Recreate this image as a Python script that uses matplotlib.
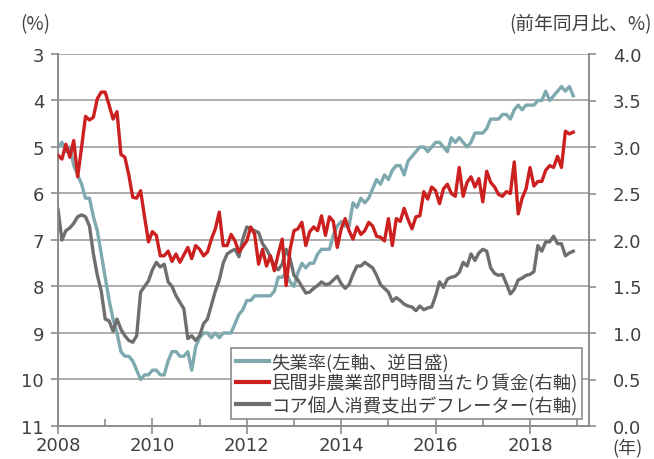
import numpy as np
import matplotlib.pyplot as plt
from matplotlib.ticker import MultipleLocator, FormatStrFormatter

JP = ['Noto Sans CJK JP', 'DejaVu Sans']
plt.rcParams['font.family'] = ['DejaVu Sans', 'Noto Sans CJK JP']

# monthly data, Jan 2008 - Dec 2018
unemp = [
    5.0, 4.9, 5.1, 5.0, 5.4, 5.6, 5.8, 6.1, 6.1, 6.5, 6.8, 7.3,
    7.8, 8.3, 8.7, 9.0, 9.4, 9.5, 9.5, 9.6, 9.8, 10.0, 9.9, 9.9,
    9.8, 9.8, 9.9, 9.9, 9.6, 9.4, 9.4, 9.5, 9.5, 9.4, 9.8, 9.3,
    9.1, 9.0, 9.0, 9.1, 9.0, 9.1, 9.0, 9.0, 9.0, 8.8, 8.6, 8.5,
    8.3, 8.3, 8.2, 8.2, 8.2, 8.2, 8.2, 8.1, 7.8, 7.8, 7.7, 7.9,
    8.0, 7.7, 7.5, 7.6, 7.5, 7.5, 7.3, 7.2, 7.2, 7.2, 6.9, 6.7,
    6.6, 6.7, 6.7, 6.2, 6.3, 6.1, 6.2, 6.1, 5.9, 5.7, 5.8, 5.6,
    5.7, 5.5, 5.4, 5.4, 5.6, 5.3, 5.2, 5.1, 5.0, 5.0, 5.1, 5.0,
    4.9, 4.9, 5.0, 5.1, 4.8, 4.9, 4.8, 4.9, 5.0, 4.9, 4.7, 4.7,
    4.7, 4.6, 4.4, 4.4, 4.4, 4.3, 4.3, 4.4, 4.2, 4.1, 4.2, 4.1,
    4.1, 4.1, 4.0, 4.0, 3.8, 4.0, 3.9, 3.8, 3.7, 3.8, 3.7, 3.9]

wages = [
    2.91, 2.87, 3.03, 2.89, 3.07, 2.68, 3.00, 3.33, 3.29, 3.32, 3.52, 3.59,
    3.59, 3.45, 3.30, 3.38, 2.92, 2.89, 2.70, 2.46, 2.45, 2.53, 2.25, 1.98,
    2.09, 2.05, 1.83, 1.83, 1.88, 1.77, 1.85, 1.76, 1.84, 1.92, 1.80, 1.94,
    1.90, 1.83, 1.87, 2.01, 2.12, 2.30, 1.94, 1.94, 2.06, 1.99, 1.87, 1.93,
    1.99, 2.14, 2.06, 1.74, 1.90, 1.72, 1.83, 1.67, 1.85, 2.01, 1.51, 1.90,
    2.10, 2.12, 2.19, 1.94, 2.09, 2.14, 2.10, 2.26, 2.05, 2.25, 2.20, 1.92,
    2.12, 2.23, 2.10, 2.01, 2.14, 2.06, 2.10, 2.19, 2.15, 2.04, 2.03, 1.99,
    2.23, 1.94, 2.23, 2.20, 2.34, 2.22, 2.12, 2.25, 2.26, 2.52, 2.44, 2.57,
    2.53, 2.39, 2.55, 2.60, 2.50, 2.47, 2.78, 2.47, 2.62, 2.68, 2.57, 2.66,
    2.41, 2.74, 2.62, 2.57, 2.49, 2.47, 2.52, 2.50, 2.84, 2.28, 2.45, 2.55,
    2.78, 2.58, 2.63, 2.63, 2.75, 2.80, 2.78, 2.90, 2.78, 3.17, 3.14, 3.16]

core_pce = [
    2.33, 2.00, 2.10, 2.13, 2.18, 2.25, 2.27, 2.25, 2.15, 1.85, 1.62, 1.45,
    1.15, 1.13, 1.02, 1.15, 1.04, 0.97, 0.92, 0.90, 0.97, 1.44, 1.50, 1.56,
    1.68, 1.76, 1.71, 1.74, 1.55, 1.50, 1.40, 1.33, 1.26, 0.94, 0.97, 0.92,
    0.97, 1.10, 1.15, 1.30, 1.45, 1.57, 1.75, 1.85, 1.88, 1.90, 1.82, 2.01,
    2.14, 2.12, 2.10, 2.08, 1.96, 1.90, 1.82, 1.72, 1.68, 1.74, 1.90, 1.80,
    1.62, 1.57, 1.50, 1.43, 1.44, 1.48, 1.51, 1.55, 1.52, 1.53, 1.57, 1.61,
    1.53, 1.48, 1.52, 1.63, 1.72, 1.72, 1.76, 1.73, 1.70, 1.62, 1.52, 1.48,
    1.44, 1.34, 1.38, 1.35, 1.31, 1.29, 1.28, 1.24, 1.29, 1.25, 1.27, 1.28,
    1.40, 1.55, 1.49, 1.58, 1.60, 1.61, 1.65, 1.76, 1.72, 1.85, 1.78, 1.86,
    1.90, 1.88, 1.70, 1.64, 1.62, 1.63, 1.53, 1.42, 1.47, 1.57, 1.59, 1.62,
    1.63, 1.66, 1.94, 1.88, 1.98, 1.98, 2.04, 1.96, 1.96, 1.83, 1.86, 1.88]

labels = ['失業率(左軸、逆目盛)', '民間非農業部門時間当たり賃金(右軸)',
          'コア個人消費支出デフレーター(右軸)']
colors = ['#7DA9AF', '#CC1F1F', '#6E6E6E']

t = 2008 + np.arange(len(unemp)) / 12

fig = plt.figure(figsize=(6.54, 4.6), dpi=100)
ax = fig.add_axes([58/654, 1-427/460, 531/654, 372/460])
ax2 = ax.twinx()

l1, = ax.plot(t, unemp, color=colors[0], lw=2.4, zorder=3)
l2, = ax2.plot(t, wages, color=colors[1], lw=2.4, zorder=3)
l3, = ax2.plot(t, core_pce, color=colors[2], lw=2.4, zorder=2)

gc = '#8C8C8C'
tc = '#404040'
ax.set_xlim(2008, 2019.25)
ax.set_ylim(11, 3)
ax2.set_ylim(0, 4)
ax.yaxis.set_major_locator(MultipleLocator(1))
ax2.yaxis.set_major_locator(MultipleLocator(0.5))
ax2.yaxis.set_major_formatter(FormatStrFormatter('%.1f'))
ax.set_xticks(range(2008, 2019, 2))
ax.set_xticks(range(2009, 2020, 2), minor=True)
ax.grid(axis='y', color='#A0A0A0', lw=1.2)
ax.set_axisbelow(True)

for a in (ax, ax2):
    for s in a.spines.values():
        s.set_color(gc)
        s.set_linewidth(1.2)
    a.spines['top'].set_visible(False)
ax.tick_params(axis='y', direction='out', length=5, width=1.2, color=gc,
               labelsize=13, labelcolor=tc, pad=5)
ax2.tick_params(axis='y', direction='out', length=5, width=1.2, color=gc,
                labelsize=13, labelcolor=tc, pad=12)
ax.tick_params(axis='x', which='major', direction='inout', length=11, width=1.2,
               color=gc, labelsize=13, labelcolor=tc, pad=2)
ax.tick_params(axis='x', which='minor', direction='in', length=5, width=1.2,
               color=gc)

fig.text(35/654, 1-25/460, '(%)', ha='center', va='center', fontsize=13.5,
         color=tc, family=JP)
fig.text(652/654, 1-25/460, '(前年同月比、%)', ha='right', va='center',
         fontsize=13.5, color=tc, family=JP)
fig.text(628/654, 1-448/460, '(年)', ha='center', va='center', fontsize=13,
         color=tc, family=JP)

leg = ax2.legend([l1, l2, l3], labels, loc='lower right',
                 bbox_to_anchor=(0.987, 0.019), prop={'family': JP, 'size': 13.2},
                 fancybox=False, edgecolor=gc, framealpha=1, handlelength=1.8,
                 handletextpad=0.15, labelspacing=0.12, borderpad=0.25,
                 borderaxespad=0)
leg.get_frame().set_linewidth(1.2)
for h in leg.get_lines():
    h.set_linewidth(3)
for txt in leg.get_texts():
    txt.set_color(tc)

fig.savefig('out.png', dpi=100)
